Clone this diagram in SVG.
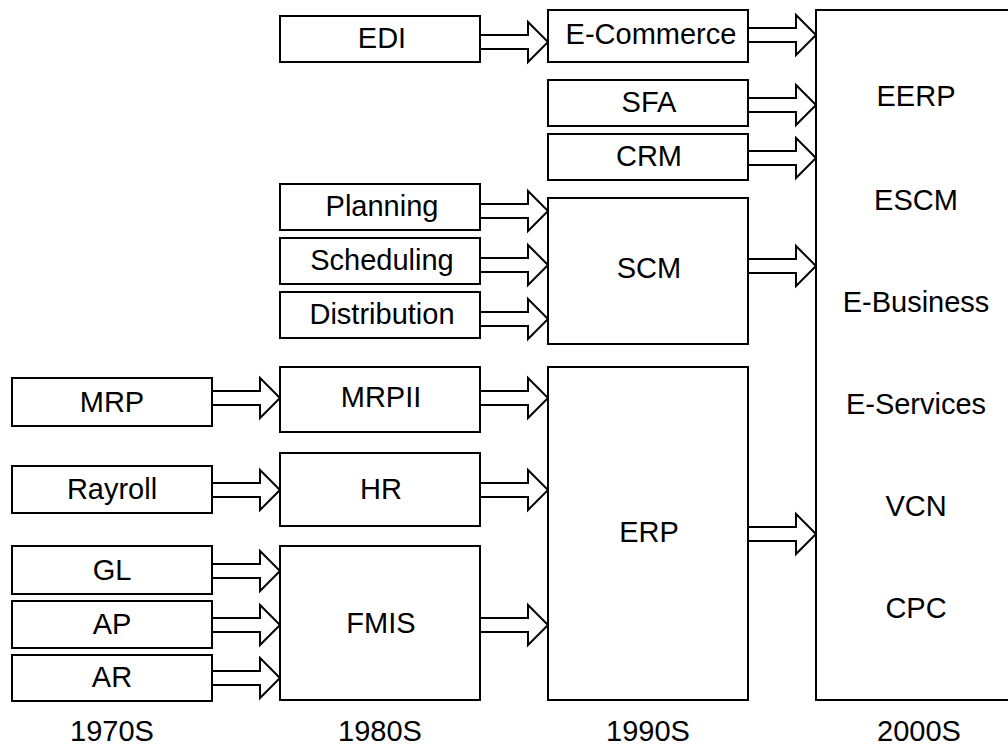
<svg xmlns="http://www.w3.org/2000/svg" width="1008" height="746" viewBox="0 0 1008 746">
<style>
.b{fill:#fff;stroke:#000;stroke-width:2}
.a{fill:#fff;stroke:#000;stroke-width:2;stroke-linejoin:miter}
text{font-family:"Liberation Sans",Arial,sans-serif;font-size:29px;fill:#000;text-anchor:middle}
</style>
<rect width="1008" height="746" fill="#fff"/>
<g id="connectors">
<path class="a" d="M480,35 H528 V22 L548,42 L528,62 V49 H480"/>
<path class="a" d="M748,28 H796 V15 L816,35 L796,55 V42 H748"/>
<path class="a" d="M748,98 H796 V85 L816,105 L796,125 V112 H748"/>
<path class="a" d="M748,151 H796 V138 L816,158 L796,178 V165 H748"/>
<path class="a" d="M480,204 H528 V191 L548,211 L528,231 V218 H480"/>
<path class="a" d="M480,258 H528 V245 L548,265 L528,285 V272 H480"/>
<path class="a" d="M480,312 H528 V299 L548,319 L528,339 V326 H480"/>
<path class="a" d="M748,259 H796 V246 L816,266 L796,286 V273 H748"/>
<path class="a" d="M212,391 H260 V378 L280,398 L260,418 V405 H212"/>
<path class="a" d="M212,483 H260 V470 L280,490 L260,510 V497 H212"/>
<path class="a" d="M212,564 H260 V551 L280,571 L260,591 V578 H212"/>
<path class="a" d="M212,618 H260 V605 L280,625 L260,645 V632 H212"/>
<path class="a" d="M212,671 H260 V658 L280,678 L260,698 V685 H212"/>
<path class="a" d="M480,391 H528 V378 L548,398 L528,418 V405 H480"/>
<path class="a" d="M480,483 H528 V470 L548,490 L528,510 V497 H480"/>
<path class="a" d="M480,618 H528 V605 L548,625 L528,645 V632 H480"/>
<path class="a" d="M748,527 H796 V514 L816,534 L796,554 V541 H748"/>
</g>
<g id="edi"><rect class="b" x="280" y="16" width="200" height="46"/><text x="382" y="48">EDI</text></g>
<g id="ecommerce"><rect class="b" x="548" y="10" width="200" height="52"/><text x="651" y="44">E-Commerce</text></g>
<g id="sfa"><rect class="b" x="548" y="80" width="200" height="46"/><text x="649" y="112">SFA</text></g>
<g id="crm"><rect class="b" x="548" y="134" width="200" height="46"/><text x="649" y="166">CRM</text></g>
<g id="planning"><rect class="b" x="280" y="184" width="200" height="46"/><text x="382" y="216">Planning</text></g>
<g id="scheduling"><rect class="b" x="280" y="238" width="200" height="46"/><text x="382" y="270">Scheduling</text></g>
<g id="distribution"><rect class="b" x="280" y="292" width="200" height="46"/><text x="382" y="324">Distribution</text></g>
<g id="scm"><rect class="b" x="548" y="198" width="200" height="146"/><text x="649" y="278">SCM</text></g>
<g id="mrp"><rect class="b" x="12" y="378" width="200" height="48"/><text x="112" y="412">MRP</text></g>
<g id="mrpii"><rect class="b" x="280" y="367" width="200" height="65"/><text x="381" y="407">MRPII</text></g>
<g id="rayroll"><rect class="b" x="12" y="466" width="200" height="47"/><text x="112" y="499">Rayroll</text></g>
<g id="hr"><rect class="b" x="280" y="453" width="200" height="73"/><text x="381" y="499">HR</text></g>
<g id="gl"><rect class="b" x="12" y="546" width="200" height="48"/><text x="112" y="580">GL</text></g>
<g id="ap"><rect class="b" x="12" y="601" width="200" height="47"/><text x="112" y="634">AP</text></g>
<g id="ar"><rect class="b" x="12" y="655" width="200" height="46"/><text x="112" y="687">AR</text></g>
<g id="fmis"><rect class="b" x="280" y="546" width="200" height="154"/><text x="381" y="633">FMIS</text></g>
<g id="erp"><rect class="b" x="548" y="367" width="200" height="333"/><text x="649" y="542">ERP</text></g>
<g id="y2000"><rect class="b" x="816" y="10" width="200" height="690"/>
<text x="916" y="106">EERP</text>
<text x="916" y="210">ESCM</text>
<text x="916" y="312">E-Business</text>
<text x="916" y="414">E-Services</text>
<text x="916" y="516">VCN</text>
<text x="916" y="618">CPC</text>
</g>
<g id="years">
<text x="112" y="741">1970S</text>
<text x="380" y="741">1980S</text>
<text x="648" y="741">1990S</text>
<text x="919" y="741">2000S</text>
</g>
</svg>
